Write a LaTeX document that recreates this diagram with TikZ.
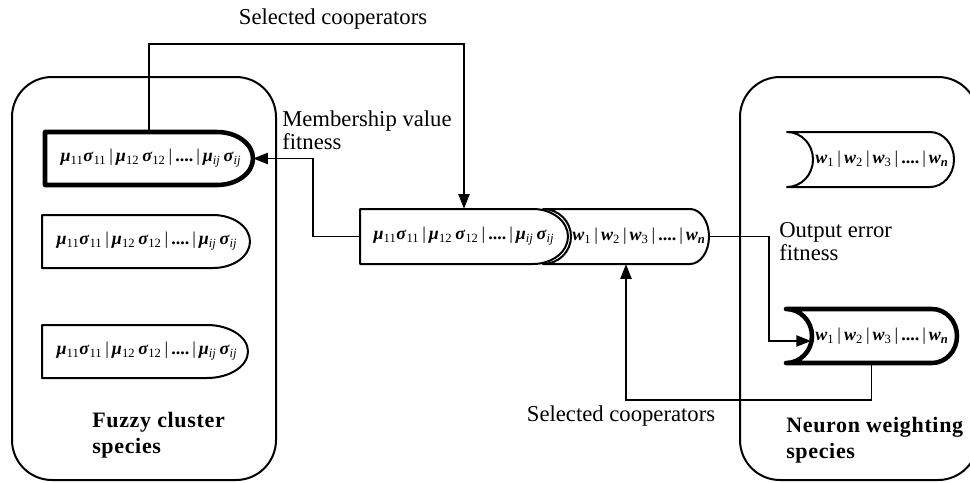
\documentclass[tikz,border=0pt]{standalone}
\usepackage{fontspec}
\setmainfont{Liberation Serif}
\usetikzlibrary{arrows.meta}

% gene symbols
\newcommand\gmu[1]{\textbf{\textit{μ}}\textsubscript{#1}}
\newcommand\gsig[1]{\textbf{\textit{σ}}\textsubscript{#1}}
\newcommand\wgt[1]{\textbf{\textit{w}}\textsubscript{#1}}
\newcommand\sep{\,|\,}
\newcommand\mutext{\gmu{11}\gsig{11}\sep\gmu{12}\,\gsig{12}\sep\textbf{....}\sep\gmu{\textit{ij}}\,\gsig{\textit{ij}}}
\newcommand\wtext{\wgt{1}\sep\wgt{2}\sep\wgt{3}\sep\textbf{....}\sep\wgt{\textbf{\textit{n}}}}

\tikzset{
  container/.style={draw, line width=1.5pt, rounded corners=30pt, rectangle, inner sep=0pt},
  chromo/.style={draw=none, rectangle, inner sep=0pt},
  outline/.style={line width=1.5pt, line join=round},
  boldoutline/.style={line width=3.4pt, line join=round, line cap=round},
  gene/.style={font=\fontsize{13.5}{16}\selectfont, inner sep=0pt},
  conn/.style={line width=1pt},
  tip/.style={-{Triangle[length=11pt,width=8.5pt]}},
  lab/.style={font=\fontsize{17}{17.25}\selectfont, inner sep=0pt},
  boldlab/.style={font=\fontsize{16.5}{19.5}\selectfont\bfseries\addfontfeature{LetterSpace=3}, inner sep=0pt},
}

\begin{document}
\begin{tikzpicture}[x=0.75pt, y=-0.75pt]
\useasboundingbox (0,0) rectangle (970,482);
\clip (0,0) rectangle (970,482);

% species containers
\node[container, minimum width=198pt, minimum height=302.25pt] (fuzzy) at (144,278.5) {};
\node[container, minimum width=178.5pt, minimum height=302.25pt] (neuron) at (859,278.5) {};

% chromosome frames (for anchors)
\node[chromo, minimum width=156pt, minimum height=39.75pt] (L1) at (149,158.5) {};
\node[chromo, minimum width=156pt, minimum height=39.75pt] (L2) at (146,241.5) {};
\node[chromo, minimum width=154.5pt, minimum height=39.75pt] (L3) at (145,351.5) {};
\node[chromo, minimum width=156pt, minimum height=41.25pt] (Mmu) at (464,236.5) {};
\node[chromo, minimum width=124.5pt, minimum height=41.25pt] (Mw) at (626,236.5) {};
\node[chromo, minimum width=125.25pt, minimum height=41.25pt] (R1) at (870.5,159.5) {};
\node[chromo, minimum width=128.25pt, minimum height=40.5pt] (R2) at (871.5,336) {};

% fuzzy cluster chromosomes
\draw[boldoutline] (45,132) -- (217,132) arc[start angle=-90, end angle=90, x radius=36, y radius=26.5] -- (45,185) -- cycle;
\draw[outline] (42,215) -- (213,215) arc[start angle=-90, end angle=90, x radius=37, y radius=26.5] -- (42,268) -- cycle;
\draw[outline] (42,325) -- (207,325) arc[start angle=-90, end angle=90, x radius=41, y radius=26.5] -- (42,378) -- cycle;

% combined chromosome
\draw[outline] (360,209) -- (533,209) arc[start angle=-90, end angle=90, x radius=35, y radius=27.5] -- (360,264) -- cycle;
\draw[outline] (543,209) -- (690,209) arc[start angle=-90, end angle=90, x radius=19, y radius=27.5] -- (543,264) arc[start angle=90, end angle=-90, x radius=28, y radius=27.5] -- cycle;

% neuron weighting chromosomes
\draw[outline] (787,132) -- (930,132) arc[start angle=-90, end angle=90, x radius=24, y radius=27.5] -- (787,187) arc[start angle=90, end angle=-90, x radius=26, y radius=27.5] -- cycle;
\draw[boldoutline] (786,309) -- (932,309) arc[start angle=-90, end angle=90, x radius=25, y radius=27] -- (786,363) arc[start angle=90, end angle=-90, x radius=26, y radius=27] -- cycle;

% gene strings
\node[gene] (L1t) at (151,158.5) {\mutext};
\node[gene] (L2t) at (147,241.5) {\mutext};
\node[gene] (L3t) at (147,351.5) {\mutext};
\node[gene] (Mmut) at (464,236.5) {\mutext};
\node[gene] (Mwt) at (639,236.5) {\wtext};
\node[gene] (R1t) at (882,159.5) {\wtext};
\node[gene] (R2t) at (882,336) {\wtext};

% connectors
\coordinate (topbar) at (300,44);
\coordinate (mvx) at (313,0);
\coordinate (oex) at (769,0);
\coordinate (R2in) at (811,341);
\coordinate (botbar) at (700,400);

\draw[conn, tip] (L1.north) |- (Mmu.north |- topbar) -- (Mmu.north);
\draw[conn, tip] (Mmu.west) -| (mvx |- L1.east) -- (L1.east);
\draw[conn, tip] (Mw.east) -| (oex |- R2in) -- (R2in);
\draw[conn, tip] (R2.south) |- (Mw.south |- botbar) -- (Mw.south);

% labels
\node[lab] (selTop) at (333,19) {Selected cooperators};
\node[lab, anchor=west, align=left] (memfit) at (282,130) {Membership value\\fitness};
\node[lab, anchor=west, align=left] (oefit) at (779,242) {Output error\\fitness};
\node[lab] (selBot) at (621,416) {Selected cooperators};
\node[boldlab, anchor=west, align=left] (fcs) at (92,435) {Fuzzy cluster\\species};
\node[boldlab, anchor=west, align=left] (nws) at (786,440) {Neuron weighting\\species};
\end{tikzpicture}
\end{document}
